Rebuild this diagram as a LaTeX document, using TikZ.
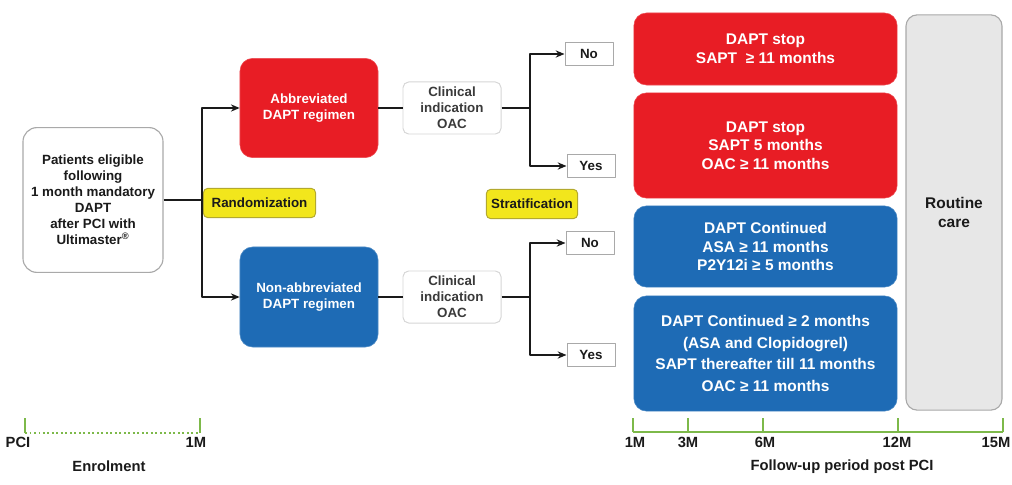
\documentclass[tikz,border=0pt]{standalone}
\usepackage{fontspec}
\setmainfont{Liberation Sans}
\usetikzlibrary{arrows.meta,positioning}
\definecolor{abbr}{HTML}{E81D25}
\definecolor{nonab}{HTML}{1E6BB5}
\definecolor{strat}{HTML}{F2E61C}
\definecolor{stratdraw}{HTML}{B3A92E}
\definecolor{routine}{HTML}{E7E7E7}
\definecolor{ink}{HTML}{1A1A1A}
\definecolor{ink2}{HTML}{3A3A3A}
\definecolor{ink3}{HTML}{A9A9A9}
\definecolor{ink4}{HTML}{D6D6D6}
\definecolor{period}{HTML}{7DB94A}
\tikzset{
  >={Stealth[length=2.2mm,width=1.8mm]},
  every picture/.style={line join=round},
  box/.style={align=center, inner sep=0pt, font=\fontsize{9.5}{11.4}\selectfont\bfseries, text=ink},
  startbox/.style={box, draw=ink3, fill=white, rounded corners=10pt, line width=0.8pt},
  armbox/.style={box, fill=#1, draw=#1!80!white, rounded corners=9pt, text=white,
    font=\fontsize{9.5}{11.8}\selectfont\bfseries},
  oacbox/.style={box, draw=ink4, fill=white, rounded corners=4pt, line width=0.7pt, text=ink2,
    minimum width=2.45cm, minimum height=1.3cm},
  ansbox/.style={box, draw=ink3, fill=white, line width=0.7pt, minimum width=1.2cm,
    minimum height=0.57cm},
  tag/.style={box, draw=stratdraw, fill=strat, rounded corners=3pt, line width=0.7pt,
    minimum height=0.73cm},
  regbox/.style={box, fill=#1, draw=#1!80!white, rounded corners=9pt, text=white,
    font=\fontsize{11}{13.2}\selectfont\bfseries, minimum width=6.58cm},
  carebox/.style={box, draw=ink3, fill=routine, rounded corners=8pt, line width=0.8pt,
    font=\fontsize{11}{13.2}\selectfont\bfseries},
  line/.style={draw=ink, line width=1.1pt},
  arr/.style={->, draw=ink, line width=1.1pt},
  tick/.style={draw=period, line width=1.2pt},
  tlbl/.style={box, font=\fontsize{10.5}{12}\selectfont\bfseries, anchor=north},
}

\begin{document}
\begin{tikzpicture}[x=0.025cm, y=-0.025cm]
  \useasboundingbox (0,0) rectangle (1012,485);

  % ======================= enrolment and randomization =======================
  \node[startbox, minimum width=3.5cm, minimum height=3.62cm] (pat) at (93,200)
    {Patients eligible\\following\\1 month mandatory\\DAPT\\after PCI with\\Ultimaster\textsuperscript{®}};
  \coordinate (sp1) at (202,200);
  \node[tag, minimum width=2.8cm, anchor=west] (rand) at (203,203) {Randomization};
  \node[armbox=abbr, minimum width=3.45cm, minimum height=2.48cm] (abb) at (309,108)
    {Abbreviated\\DAPT regimen};
  \node[armbox=nonab, minimum width=3.45cm, minimum height=2.5cm] (nab) at (309,297)
    {Non-abbreviated\\DAPT regimen};
  \draw[line] (pat.east) -- (sp1);
  \draw[arr] (sp1) |- (abb.west);
  \draw[arr] (sp1) |- (nab.west);

  % ======================= stratification =======================
  \node[oacbox] (oac1) at (452,108) {Clinical\\indication\\OAC};
  \node[oacbox] (oac2) at (452,297) {Clinical\\indication\\OAC};
  \node[ansbox] (no1) at (589,54) {No};
  \node[ansbox] (yes1) at (591,166) {Yes};
  \node[ansbox] (no2) at (590,243) {No};
  \node[ansbox] (yes2) at (591,355) {Yes};
  \node[tag, minimum width=2.28cm] (strat) at (532,204) {Stratification};
  \coordinate (sp2) at (530,108);
  \coordinate (sp3) at (530,297);
  \draw[line] (abb.east) -- (oac1.west);
  \draw[line] (nab.east) -- (oac2.west);
  \draw[line] (oac1.east) -- (sp2);
  \draw[line] (oac2.east) -- (sp3);
  \draw[arr] (sp2) |- (no1.west);
  \draw[arr] (sp2) |- (yes1.west);
  \draw[arr] (sp3) |- (no2.west);
  \draw[arr] (sp3) |- (yes2.west);

  % ======================= regimens after 1 month =======================
  \node[regbox=abbr, minimum height=1.8cm] (r1) at (765.5,49)
    {DAPT stop\\SAPT\ \ ≥ 11 months};
  \node[regbox=abbr, minimum height=2.63cm] (r2) at (765.5,145.5)
    {DAPT stop\\SAPT 5 months\\OAC ≥ 11 months};
  \node[regbox=nonab, minimum height=2.03cm] (r3) at (765.5,246.5)
    {DAPT Continued\\ASA ≥ 11 months\\P2Y12i ≥ 5 months};
  \node[regbox=nonab, minimum height=2.88cm, font=\fontsize{11}{15.6}\selectfont\bfseries] (r4)
    at (765.5,353.5)
    {DAPT Continued ≥ 2 months\\(ASA and Clopidogrel)\\SAPT thereafter till 11 months\\OAC ≥ 11 months};
  \node[carebox, minimum width=2.4cm, minimum height=9.88cm] (care) at (954,212.5)
    {Routine\\care};

  % ======================= time lines =======================
  \draw[tick] (25,418) -- (25,433);
  \draw[tick] (200,418) -- (200,433);
  \draw[tick, dotted, line width=1.4pt] (25,433) -- (200,433);
  \node[tlbl] (pci) at (18,437) {PCI};
  \node[tlbl] (m1) at (196,437) {1M};
  \node[tlbl] (enrol) at (109,461) {Enrolment};

  \draw[tick] (633,432) -- (1003,432);
  \foreach \x/\m/\lx in {633/1/635,688/3/688,763/6/765,898/12/897,1003/15/996}{
    \draw[tick] (\x,418) -- (\x,432);
    \node[tlbl] (f\m) at (\lx,437) {\m M};
  }
  \node[tlbl] (fup) at (842,460) {Follow-up period post PCI};
\end{tikzpicture}
\end{document}
